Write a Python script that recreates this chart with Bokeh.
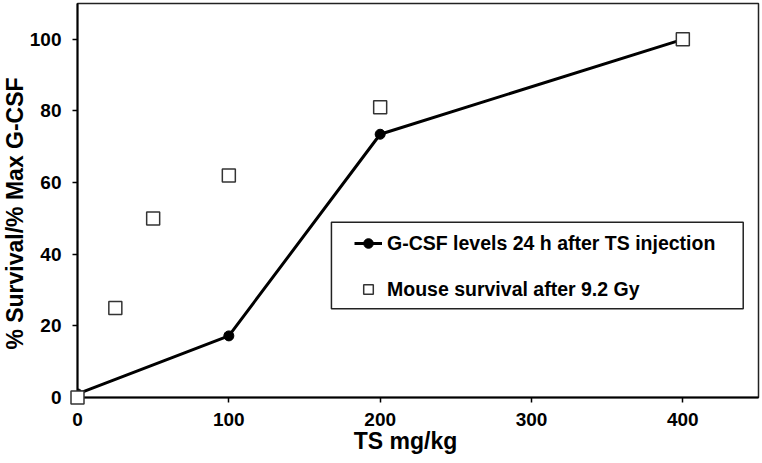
import math
from bokeh.plotting import figure
from bokeh.models import Range1d, FixedTicker, Legend, LegendItem, BoxAnnotation
from bokeh.core.properties import value
from bokeh.embed import file_html
from bokeh.resources import INLINE

# Data
ts_dose_gcsf = [0, 100, 200, 400]          # TS mg/kg
gcsf_pct = [1, 17.2, 73.5, 100]            # % Max G-CSF
ts_dose_surv = [0, 25, 50, 100, 200, 400]  # TS mg/kg
survival_pct = [0, 25, 50, 62, 81, 100]    # % Survival
x_ticks = [0, 100, 200, 300, 400]
y_ticks = [0, 20, 40, 60, 80, 100]
gcsf_label = "G-CSF levels 24 h after TS injection"
surv_label = "Mouse survival after 9.2 Gy"
x_title = "TS mg/kg"
y_title = "% Survival/% Max G-CSF"

FONT = "Liberation Sans"

p = figure(width=762, height=463, output_backend="svg", toolbar_location=None,
           x_range=Range1d(0, 450), y_range=Range1d(0, 110),
           min_border_left=77, min_border_right=4, min_border_top=3,
           min_border_bottom=66)
p.xgrid.visible = False
p.ygrid.visible = False
p.background_fill_color = "white"
p.border_fill_color = "white"
p.outline_line_color = "#222222"
p.outline_line_width = 1.5

for ax in (p.xaxis[0], p.yaxis[0]):
    ax.axis_line_color = "black"
    ax.axis_line_width = 2
    ax.major_tick_line_color = "black"
    ax.major_tick_line_width = 1.5
    ax.major_tick_out = 5
    ax.major_tick_in = 0
    ax.minor_tick_line_color = None
    ax.major_label_text_font = FONT
    ax.major_label_text_font_style = "bold"
    ax.major_label_text_font_size = "19px"
    ax.major_label_text_color = "black"

p.xaxis.ticker = FixedTicker(ticks=x_ticks)
p.yaxis.ticker = FixedTicker(ticks=y_ticks)
p.xaxis.major_label_standoff = 10
p.yaxis.major_label_standoff = 11

# axis titles: anchored at the axes origin, offset in screen pixels, drawn unclipped
title_style = dict(text_font=value(FONT), text_font_style="bold", text_font_size="23px",
                   text_color="black", text_align="center", text_baseline="middle",
                   level="overlay")
p.text(x=[0], y=[0], text=[x_title], x_offset=328, y_offset=43, **title_style)
p.text(x=[0], y=[0], text=[y_title], x_offset=-63, y_offset=-184,
       angle=math.pi / 2, **title_style)

gline = p.line(ts_dose_gcsf, gcsf_pct, line_color="black", line_width=3)
gdots = p.scatter(ts_dose_gcsf, gcsf_pct, marker="circle", size=10,
                  fill_color="black", line_color="black")
sq = p.scatter(ts_dose_surv, survival_pct, marker="square", size=13,
               fill_color="white", line_color="#333333", line_width=1.5,
               level="overlay")

# legend frame
box = BoxAnnotation(left=167.8, right=439.9, bottom=24.8, top=48.9,
                    fill_color="white", fill_alpha=1.0,
                    line_color="#222222", line_alpha=1.0, line_width=1.5)
p.add_layout(box)

legend = Legend(items=[LegendItem(label=gcsf_label, renderers=[gline, gdots]),
                       LegendItem(label=surv_label, renderers=[sq])],
                location=(277, 96), padding=0, margin=0, spacing=22,
                glyph_width=28, glyph_height=24, label_height=24,
                label_standoff=5, border_line_color=None,
                background_fill_alpha=0,
                label_text_font=FONT, label_text_font_style="bold",
                label_text_font_size="19.5px", label_text_color="black")
p.add_layout(legend)

open("out.html", "w").write(file_html(p, INLINE))
